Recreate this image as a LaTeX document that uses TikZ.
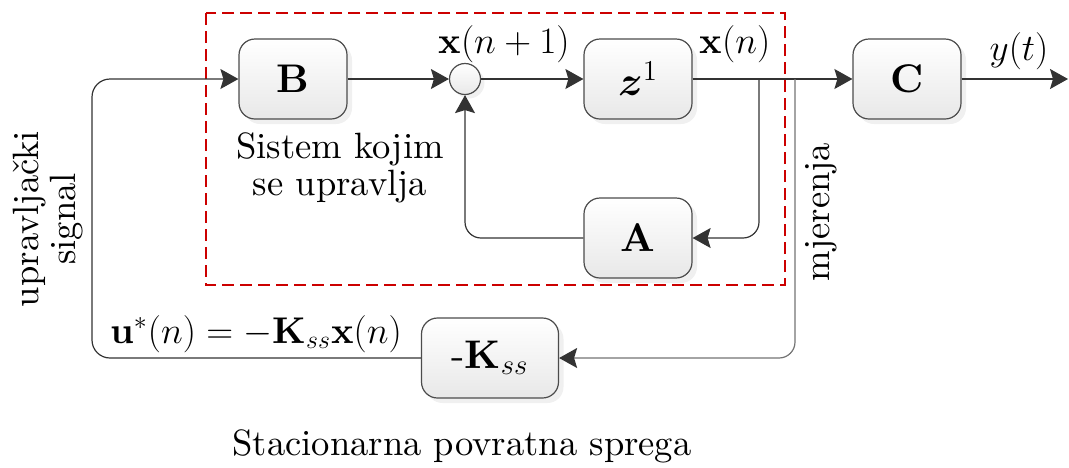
\documentclass[tikz,border=0pt]{standalone}
\usepackage{amsmath}
\usepackage{fontspec}
\setmainfont{lmroman10-regular.otf}[BoldFont=lmroman10-bold.otf,
  ItalicFont=lmroman10-italic.otf]
\usetikzlibrary{arrows.meta,shadows}
\newcommand{\mlabel}[1]{\scalebox{1.078}{#1}}
\tikzset{
  block/.style={draw=black!70, line width=0.6pt, rounded corners=8pt,
    top color=white, bottom color=black!9, minimum width=54pt,
    minimum height=40pt, inner sep=0pt,
    drop shadow={opacity=0.12, shadow xshift=2.5pt, shadow yshift=-2.5pt},
    font=\fontsize{20}{24}\selectfont},
  sumnode/.style={circle, draw=black!70, line width=0.6pt, minimum size=15.5pt,
    inner sep=0pt, top color=white, bottom color=black!9,
    drop shadow={opacity=0.12, shadow xshift=2pt, shadow yshift=-2pt}},
  arr/.style={draw=black!80, line width=0.6pt,
    -{Stealth[length=9pt, width=10pt, inset=1.5pt, black!80]}},
  lbl/.style={font=\fontsize{18.3}{18.5}\selectfont, inner sep=0pt},
  mlbl/.style={font=\fontsize{17.28}{20}\selectfont, inner sep=0pt},
}
\begin{document}
\begin{tikzpicture}[x=0.5pt, y=-0.5pt]
  \useasboundingbox (0,0) rectangle (1069,467);
  % controlled plant (dashed frame)
  \draw[red!80!black, line width=1pt, dash pattern=on 6pt off 3pt]
    (206,13) rectangle (785,285);
  % blocks
  \node[block] (B) at (293,79) {$\mathbf{B}$};
  \node[sumnode] (sum) at (465,79) {};
  \node[block] (zinv) at (638,79) {$\boldsymbol{z}^{1}$};
  \node[block] (A) at (638,238) {$\mathbf{A}$};
  \node[block] (C) at (907,79) {$\mathbf{C}$};
  \node[block, minimum width=68.5pt] (Kss) at (490,358) {-$\mathbf{K}_{ss}$};
  % branch points and free ends
  \coordinate (j1) at (759,79);
  \coordinate (j2) at (795,79);
  \coordinate (uleft) at (92,79);
  \coordinate (yend) at (1068,79);
  % forward path
  \draw[arr] (B.east) -- (sum.west);
  \draw[arr] (sum.east) -- (zinv.west);
  \draw[arr] (zinv.east) -- (C.west);
  \draw[arr] (C.east) -- (yend);
  % state feedback inside the plant
  \draw[arr, rounded corners=8pt] (j1) |- (A.east);
  \draw[arr, rounded corners=8pt] (A.west) -| (sum.south);
  % measurement and control loop
  \draw[arr, draw=black!55, rounded corners=8pt] (j2) |- (Kss.east);
  \draw[arr, rounded corners=9pt] (Kss.west) -| (uleft) -- (B.west);
  % labels
  \node[mlbl] (xn1) at (504,44) {\mlabel{$\mathbf{x}(n+1)$}};
  \node[mlbl] (xn) at (735,44) {\mlabel{$\mathbf{x}(n)$}};
  \node[mlbl] (yt) at (1019,51) {\mlabel{$y(t)$}};
  \node[lbl, align=center] (plant) at (340,168) {Sistem kojim\\se upravlja};
  \node[lbl, align=center, rotate=90] (usig) at (48,219) {upravljački\\signal};
  \node[lbl, rotate=90] (meas) at (821,212) {mjerenja};
  \node[mlbl] (law) at (256,334) {\mlabel{$\mathbf{u}^{*}(n)=-\mathbf{K}_{ss}\mathbf{x}(n)$}};
  \node[lbl] (title) at (462,446) {Stacionarna povratna sprega};
\end{tikzpicture}
\end{document}
